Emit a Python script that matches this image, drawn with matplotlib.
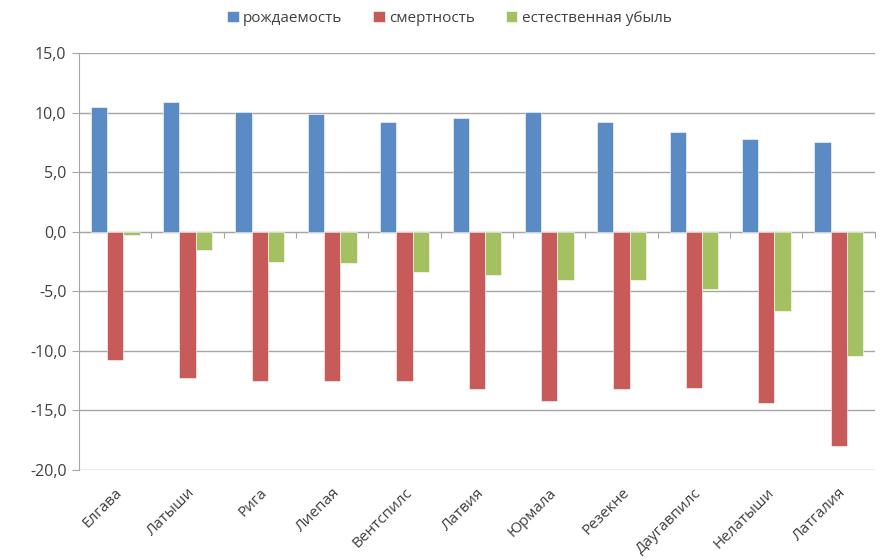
import numpy as np
import matplotlib
matplotlib.use("Agg")
import matplotlib.pyplot as plt
from matplotlib.ticker import FuncFormatter, FixedLocator

plt.rcParams['font.family'] = ['Open Sans', 'DejaVu Sans']

# data
regions = ['Елгава', 'Латыши', 'Рига', 'Лиепая', 'Вентспилс', 'Латвия',
           'Юрмала', 'Резекне', 'Даугавпилс', 'Нелатыши', 'Латгалия']
births = [10.5, 10.9, 10.1, 9.9, 9.2, 9.6, 10.1, 9.2, 8.4, 7.8, 7.55]
deaths = [-10.8, -12.3, -12.55, -12.55, -12.55, -13.2, -14.2, -13.2, -13.15, -14.4, -18.0]
natural_loss = [-0.25, -1.5, -2.5, -2.65, -3.4, -3.65, -4.05, -4.05, -4.8, -6.65, -10.45]
series_names = ['рождаемость', 'смертность', 'естественная убыль']

colors = ['#5B8BC5', '#C75B59', '#A3C160']
grid_c = '#A6A6A6'
text_c = '#404040'

fig = plt.figure(figsize=(8.81, 5.6), dpi=100)
ax = fig.add_axes([0.0897, 0.1607, 0.9033, 0.7443])

x = np.arange(len(regions))
w = 0.225
for i, vals in enumerate([births, deaths, natural_loss]):
    ax.bar(x + (i - 1) * w, vals, width=w, color=colors[i],
           edgecolor='white', linewidth=0.4, label=series_names[i], zorder=3)

ax.set_xlim(-0.5, len(regions) - 0.5)
ax.set_ylim(-20, 15)
ax.set_yticks(np.arange(-20, 16, 5))
ax.yaxis.set_major_formatter(FuncFormatter(lambda v, p: f'{v:.1f}'.replace('.', ',')))
ax.grid(axis='y', color=grid_c, linewidth=1, zorder=0)
ax.set_axisbelow(True)

for s in ['top', 'right']:
    ax.spines[s].set_visible(False)
ax.spines['left'].set_color(grid_c)
ax.spines['bottom'].set_position(('data', 0))
ax.spines['bottom'].set_color(grid_c)
ax.spines['bottom'].set_zorder(2)

# category boundary tick marks on the zero line
ax.xaxis.set_major_locator(FixedLocator(np.arange(len(regions) + 1) - 0.5))
ax.tick_params(axis='x', direction='out', length=4, color=grid_c, labelbottom=False)
ax.tick_params(axis='y', direction='out', length=5, color=grid_c, labelsize=11.5,
               labelcolor=text_c, pad=4)

# labels at the bottom of the plot area
sec = ax.secondary_xaxis('bottom')
sec.set_xticks(x)
sec.set_xticklabels(regions, rotation=45, ha='right', rotation_mode='anchor',
                    fontsize=11, color=text_c)
sec.tick_params(length=0, pad=11)
sec.spines['bottom'].set_visible(False)

fig.legend(loc='upper center', bbox_to_anchor=(0.51, 1.005), ncol=3, frameon=False,
           fontsize=11, handlelength=0.75, handleheight=0.75, handletextpad=0.3,
           columnspacing=2.0, labelcolor=text_c)

fig.savefig('out.png', dpi=100)
